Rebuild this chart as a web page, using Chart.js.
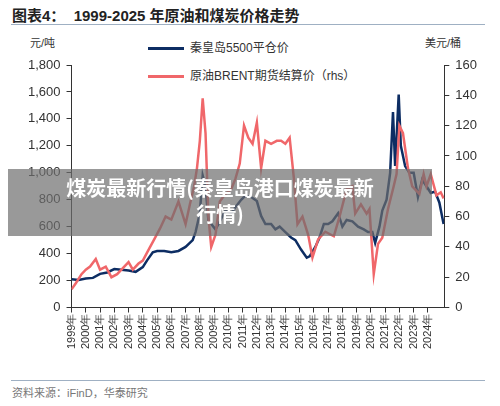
<!DOCTYPE html>
<html>
<head>
<meta charset="utf-8">
<script src="https://cdn.jsdelivr.net/npm/chart.js@4"></script>
<style>
  body { margin: 0; width: 500px; height: 406px; background: #fff; font-family: "Liberation Sans", "Noto Sans CJK SC", sans-serif; position: relative; overflow: hidden; }
  .abs { position: absolute; }
  #title { left: 12px; top: 4px; font-size: 15px; font-weight: bold; color: #222; }
  .rule { left: 11px; width: 474px; height: 1px; background: #9fb0c3; }
  .unit { font-size: 11px; color: #333; top: 34px; }
  .leg { font-size: 12px; color: #333; left: 148px; }
  .leg span { display: inline-block; width: 36px; height: 3px; vertical-align: middle; margin-right: 6px; }
  #banner { left: 8px; top: 169px; width: 424px; height: 67px; background: rgba(110,110,110,0.7); color: #fff; font-weight: bold; font-size: 20px; text-align: center; line-height: 26px; padding-top: 6px; box-sizing: border-box; font-family: "Noto Sans CJK SC", sans-serif; }
  #src { left: 12px; top: 384px; font-size: 11px; color: #777; }
  #wrap { left: 0; top: 50px; width: 500px; height: 300px; }
</style>
</head>
<body>
<div id="title" class="abs">图表4：&nbsp;&nbsp;1999-2025 年原油和煤炭价格走势</div>
<div class="abs rule" style="top:24px"></div>
<div class="abs unit" style="left:30px">元/吨</div>
<div class="abs unit" style="left:425px">美元/桶</div>
<div class="abs leg" style="top:38px"><span style="background:#0d2d63"></span>秦皇岛5500平仓价</div>
<div class="abs leg" style="top:66px"><span style="background:#f0676a"></span>原油BRENT期货结算价（rhs）</div>
<div id="wrap" class="abs"><canvas id="chart" width="500" height="300"></canvas></div>
<div id="banner" class="abs">煤炭最新行情(秦皇岛港口煤炭最新<br>行情)</div>
<div class="abs rule" style="top:380px"></div>
<div id="src" class="abs">资料来源：iFinD，华泰研究</div>
<script>
// coal: Qinhuangdao 5500 (CNY/t)
const coalT = [1999.0,1999.5,2000.0,2000.5,2001.0,2001.5,2002.0,2002.5,2003.0,2003.5,2004.0,2004.3,2004.7,2005.0,2005.5,2006.0,2006.5,2007.0,2007.5,2007.7,2008.0,2008.2,2008.4,2008.6,2008.8,2009.1,2009.4,2009.8,2010.2,2010.6,2010.9,2011.2,2011.6,2012.0,2012.3,2012.6,2013.0,2013.3,2013.6,2014.0,2014.4,2014.7,2015.1,2015.5,2015.7,2016.1,2016.4,2016.7,2017.0,2017.3,2017.7,2018.0,2018.3,2018.7,2019.1,2019.5,2019.8,2020.1,2020.3,2020.6,2020.8,2021.1,2021.35,2021.55,2021.7,2021.95,2022.1,2022.4,2022.7,2023.0,2023.3,2023.6,2023.9,2024.2,2024.5,2024.8,2025.1];
const coalV = [210,205,215,220,250,260,285,280,275,265,300,350,410,420,420,410,420,450,500,560,700,980,900,650,620,580,640,720,700,760,800,830,820,790,680,620,620,580,600,560,520,500,430,370,380,450,520,620,620,640,700,600,650,640,600,580,560,560,480,600,720,800,1000,1450,1050,1580,1200,1050,1000,1000,820,950,900,850,860,780,620];
// oil: Brent (USD/bbl)
const oilT = [1999.0,1999.3,1999.7,2000.0,2000.3,2000.7,2001.0,2001.4,2001.8,2002.2,2002.6,2003.0,2003.3,2003.7,2004.0,2004.4,2004.8,2005.2,2005.6,2006.0,2006.5,2007.0,2007.3,2007.6,2007.8,2008.0,2008.2,2008.4,2008.6,2008.8,2009.1,2009.4,2009.8,2010.2,2010.5,2010.8,2011.1,2011.4,2011.7,2012.0,2012.3,2012.6,2013.0,2013.4,2013.7,2014.0,2014.3,2014.6,2014.85,2015.2,2015.6,2015.9,2016.3,2016.8,2017.4,2017.8,2018.3,2018.7,2018.9,2019.3,2019.7,2019.9,2020.2,2020.5,2020.8,2021.2,2021.6,2021.8,2022.0,2022.25,2022.6,2022.9,2023.4,2023.7,2023.9,2024.2,2024.6,2024.9,2025.1];
const oilV = [12,16,22,25,27,32,25,27,20,22,26,30,25,29,31,38,45,52,60,58,70,55,68,80,92,110,138,115,60,40,48,70,75,78,85,95,120,112,108,122,92,110,108,110,110,108,112,85,55,60,48,33,45,50,47,60,78,80,62,68,62,65,22,42,46,65,80,88,120,115,92,80,75,88,80,88,74,76,72];
const yearTicks = [1999,2000,2001,2002,2003,2004,2005,2006,2007,2008,2009,2010,2011,2012,2013,2014,2015,2016,2017,2018,2019,2020,2021,2022,2023,2024];

const pts = (t, v) => t.map((x, i) => ({ x: x, y: v[i] }));

const axisColor = "#333";
const tickFont = { family: "Liberation Sans", size: 11 };

new Chart(document.getElementById("chart"), {
  type: "line",
  data: {
    datasets: [
      { label: "原油BRENT期货结算价（rhs）", data: pts(oilT, oilV), yAxisID: "y1", borderColor: "#f0676a", borderWidth: 2.5, pointRadius: 0, tension: 0 },
      { label: "秦皇岛5500平仓价", data: pts(coalT, coalV), yAxisID: "y", borderColor: "#0d2d63", borderWidth: 2.5, pointRadius: 0, tension: 0 },
    ],
  },
  options: {
    responsive: false,
    animation: false,
    layout: { padding: { top: 15, left: 22, right: 17, bottom: 0 } },
    plugins: { legend: { display: false }, tooltip: { enabled: false } },
    scales: {
      x: {
        type: "linear", min: 1999, max: 2025.15,
        afterBuildTicks: (ax) => { ax.ticks = yearTicks.map((v) => ({ value: v })); },
        ticks: { callback: (v) => v + "年", autoSkip: false, maxRotation: 90, minRotation: 90, color: axisColor, font: tickFont, padding: 1 },
        grid: { drawOnChartArea: false, tickLength: 5, color: axisColor },
        border: { color: axisColor },
      },
      y: {
        position: "left", min: 0, max: 1800,
        ticks: { stepSize: 200, color: axisColor, font: { family: "Liberation Sans", size: 13 }, padding: 6 },
        grid: { drawOnChartArea: false, tickLength: 5, color: axisColor },
        border: { color: axisColor },
      },
      y1: {
        position: "right", min: 0, max: 160,
        ticks: { stepSize: 20, color: axisColor, font: { family: "Liberation Sans", size: 13 }, padding: 6 },
        grid: { drawOnChartArea: false, tickLength: 5, color: axisColor },
        border: { color: axisColor },
      },
    },
  },
});
</script>
</body>
</html>
